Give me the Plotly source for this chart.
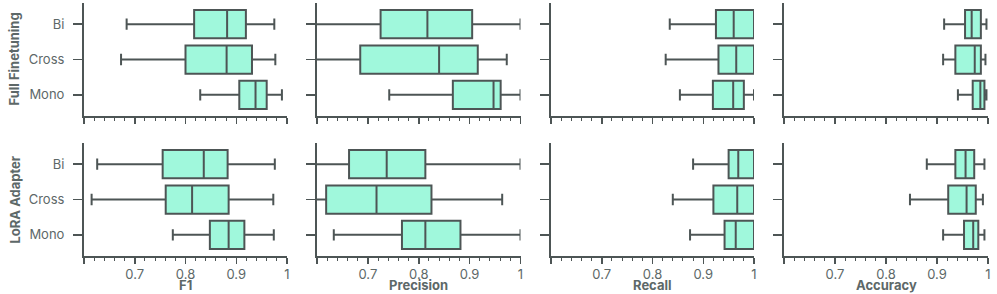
import plotly.graph_objects as go

W, H = 997, 294

categories = ["Bi", "Cross", "Mono"]
metrics = ["F1", "Precision", "Recall", "Accuracy"]
rows = ["Full Finetuning", "LoRA Adapter"]

# Full Finetuning: [Bi, Cross, Mono]
ff_f1_low = [0.684, 0.673, 0.829]
ff_f1_q1 = [0.817, 0.800, 0.906]
ff_f1_med = [0.882, 0.881, 0.938]
ff_f1_q3 = [0.919, 0.931, 0.960]
ff_f1_high = [0.975, 0.977, 0.990]

ff_prec_low = [0.55, 0.55, 0.742]
ff_prec_q1 = [0.725, 0.685, 0.867]
ff_prec_med = [0.817, 0.840, 0.947]
ff_prec_q3 = [0.905, 0.916, 0.961]
ff_prec_high = [1.0, 0.973, 1.0]

ff_rec_low = [0.834, 0.826, 0.854]
ff_rec_q1 = [0.925, 0.930, 0.919]
ff_rec_med = [0.960, 0.965, 0.959]
ff_rec_q3 = [1.0, 1.0, 0.980]
ff_rec_high = [1.0, 1.0, 1.0]

ff_acc_low = [0.914, 0.912, 0.941]
ff_acc_q1 = [0.955, 0.936, 0.970]
ff_acc_med = [0.968, 0.974, 0.985]
ff_acc_q3 = [0.986, 0.986, 0.993]
ff_acc_high = [0.997, 0.995, 0.997]

# LoRA Adapter
lo_f1_low = [0.626, 0.615, 0.775]
lo_f1_q1 = [0.755, 0.761, 0.848]
lo_f1_med = [0.836, 0.813, 0.885]
lo_f1_q3 = [0.883, 0.885, 0.916]
lo_f1_high = [0.976, 0.973, 0.974]

lo_prec_low = [0.55, 0.55, 0.633]
lo_prec_q1 = [0.663, 0.618, 0.767]
lo_prec_med = [0.737, 0.717, 0.813]
lo_prec_q3 = [0.813, 0.825, 0.882]
lo_prec_high = [1.0, 0.964, 1.0]

lo_rec_low = [0.880, 0.840, 0.874]
lo_rec_q1 = [0.950, 0.920, 0.942]
lo_rec_med = [0.969, 0.967, 0.964]
lo_rec_q3 = [1.0, 1.0, 1.0]
lo_rec_high = [1.0, 1.0, 1.0]

lo_acc_low = [0.880, 0.847, 0.912]
lo_acc_q1 = [0.936, 0.922, 0.953]
lo_acc_med = [0.956, 0.958, 0.971]
lo_acc_q3 = [0.973, 0.976, 0.981]
lo_acc_high = [0.993, 0.990, 0.993]

x_tickvals = [0.6, 0.7, 0.8, 0.9, 1.0]
x_ticktext = ["", "0.7", "0.8", "0.9", "1"]

data = [
    [
        (ff_f1_low, ff_f1_q1, ff_f1_med, ff_f1_q3, ff_f1_high),
        (ff_prec_low, ff_prec_q1, ff_prec_med, ff_prec_q3, ff_prec_high),
        (ff_rec_low, ff_rec_q1, ff_rec_med, ff_rec_q3, ff_rec_high),
        (ff_acc_low, ff_acc_q1, ff_acc_med, ff_acc_q3, ff_acc_high),
    ],
    [
        (lo_f1_low, lo_f1_q1, lo_f1_med, lo_f1_q3, lo_f1_high),
        (lo_prec_low, lo_prec_q1, lo_prec_med, lo_prec_q3, lo_prec_high),
        (lo_rec_low, lo_rec_q1, lo_rec_med, lo_rec_q3, lo_rec_high),
        (lo_acc_low, lo_acc_q1, lo_acc_med, lo_acc_q3, lo_acc_high),
    ],
]

FILL = "#a0f8dc"
LINE = "#4d5555"
TEXT = "#5d6868"
FONT = "Inter"
FS = 13

col_px = [(84, 287), (317, 520.5), (551, 754), (784, 988)]
row_px = [(3, 116), (143, 256)]

fig = go.Figure()
layout = {}
for r in range(2):
    for c in range(4):
        idx = r * 4 + c + 1
        xa = "x" if idx == 1 else f"x{idx}"
        ya = "y" if idx == 1 else f"y{idx}"
        low, q1, med, q3, high = data[r][c]
        fig.add_trace(go.Box(
            y=categories, q1=q1, median=med, q3=q3,
            lowerfence=low, upperfence=high,
            orientation="h", width=0.8, whiskerwidth=0.4,
            fillcolor=FILL, line=dict(color=LINE, width=2),
            boxpoints=False, showlegend=False, hoverinfo="skip",
            xaxis=xa, yaxis=ya,
        ))
        x0, x1 = col_px[c]
        y0, y1 = row_px[r]
        xkey = "xaxis" if idx == 1 else f"xaxis{idx}"
        ykey = "yaxis" if idx == 1 else f"yaxis{idx}"
        layout[xkey] = dict(
            domain=[x0 / W, x1 / W], anchor=ya, range=[0.6, 1.0], automargin=False,
            tickvals=x_tickvals, ticktext=x_ticktext if r == 1 else [""] * 5,
            ticks="outside", ticklen=6, tickwidth=1.5, tickcolor=LINE,
            showline=True, linecolor=LINE, linewidth=2, showgrid=False, zeroline=False,
            minor=dict(tick0=0.6, dtick=0.02, ticks="outside", ticklen=3, tickwidth=1, tickcolor=LINE),
            tickfont=dict(family=FONT, size=FS, color=TEXT), ticklabelstandoff=-1,
        )
        layout[ykey] = dict(
            domain=[1 - y1 / H, 1 - y0 / H], anchor=xa, type="category", automargin=False,
            categoryorder="array", categoryarray=categories, range=[2.6, -0.6],
            ticks="outside", ticklen=9, tickwidth=1.5, tickcolor=LINE,
            showline=True, linecolor=LINE, linewidth=2, showgrid=False, zeroline=False,
            showticklabels=(c == 0), ticklabelstandoff=6,
            tickfont=dict(family=FONT, size=FS, color=TEXT),
        )

annotations = []
for r in range(2):
    y0, y1 = row_px[r]
    annotations.append(dict(
        text=f"<b>{rows[r]}</b>", x=14 / W, y=1 - (y0 + y1) / 2 / H,
        xref="paper", yref="paper", textangle=-90, showarrow=False,
        xanchor="center", yanchor="middle",
        font=dict(family=FONT, size=FS, color=TEXT),
    ))
for c in range(4):
    x0, x1 = col_px[c]
    annotations.append(dict(
        text=f"<b>{metrics[c]}</b>", x=(x0 + x1) / 2 / W, y=1 - 284.5 / H,
        xref="paper", yref="paper", showarrow=False,
        xanchor="center", yanchor="middle",
        font=dict(family=FONT, size=FS, color=TEXT),
    ))

fig.update_layout(
    width=W, height=H, margin=dict(l=0, r=0, t=0, b=0),
    paper_bgcolor="white", plot_bgcolor="white", showlegend=False,
    annotations=annotations, **layout,
)
fig.write_html(
    "out.html",
    config={"displayModeBar": False, "staticPlot": True},
    post_script="document.body.style.margin='0';document.body.style.padding='0';document.body.style.overflow='hidden';",
)
